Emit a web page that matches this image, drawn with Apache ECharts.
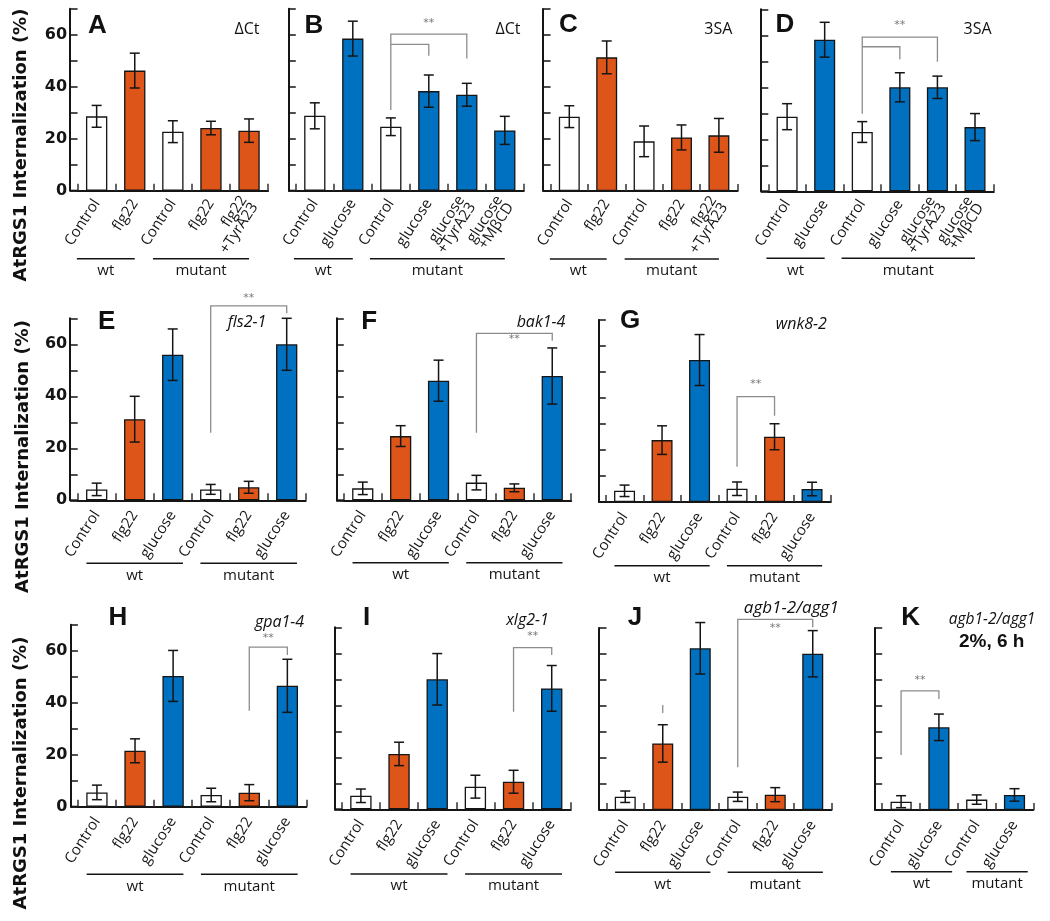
<!DOCTYPE html>
<html><head><meta charset="utf-8">
<script src="https://cdn.jsdelivr.net/npm/echarts@6/dist/echarts.min.js"></script>
<style>html,body{margin:0;padding:0;background:#fff}#c{width:1050px;height:921px}</style>
</head><body><div id="c"></div>
<script>
// ---------------- DATA ----------------
const catsAC = ['Control','flg22','Control','flg22','flg22\n+TyrA23'];
const catsBD = ['Control','glucose','Control','glucose','glucose\n+TyrA23','glucose\n+MβCD'];
const catsEJ = ['Control','flg22','glucose','Control','flg22','glucose'];
const catsK  = ['Control','glucose','Control','glucose'];

const kindsAC = ['ctrl','flg22','ctrl','flg22','flg22'];
const kindsBD = ['ctrl','glc','ctrl','glc','glc','glc'];
const kindsEJ = ['ctrl','flg22','glc','ctrl','flg22','glc'];
const kindsK  = ['ctrl','glc','ctrl','glc'];

const groupNames = ['wt','mutant'];
const groupsAC = [[0,1],[2,4]];
const groupsBD = [[0,1],[2,5]];
const groupsEJ = [[0,2],[3,5]];
const groupsK  = [[0,1],[2,3]];

const yTickLabels = [0,20,40,60];

const valuesA = [28.6,46.2,22.7,24.1,23.1];
const errorsA = [4.2,6.7,4.2,2.6,4.5];
const valuesB = [28.8,58.5,24.6,38.3,36.9,23.2];
const errorsB = [5.0,6.7,3.4,6.2,4.4,5.4];
const valuesC = [28.6,51.4,19.1,20.6,21.4];
const errorsC = [4.2,6.3,5.9,4.8,6.5];
const valuesD = [28.7,58.3,22.8,40.0,40.0,24.7];
const errorsD = [5.0,6.7,4.0,5.6,4.3,5.2];
const valuesE = [4.2,31.2,56.0,4.2,5.0,60.0];
const errorsE = [2.4,8.8,9.9,1.9,2.3,10.0];
const valuesF = [4.6,24.7,46.0,6.8,4.8,47.8];
const errorsF = [2.4,4.0,7.9,2.8,1.5,10.8];
const valuesG = [4.3,23.8,54.6,5.1,25.1,5.0];
const errorsG = [2.2,5.5,9.8,2.6,5.0,2.6];
const valuesH = [5.5,21.5,50.3,4.5,5.4,46.5];
const errorsH = [2.8,4.6,9.8,2.6,3.1,10.2];
const valuesI = [5.2,21.3,50.0,8.7,10.6,46.5];
const errorsI = [2.6,4.5,9.9,4.4,4.4,8.8];
const valuesJ = [5.1,25.6,62.2,5.1,5.9,60.1];
const errorsJ = [2.2,7.2,9.9,1.8,2.7,8.9];
const valuesK = [3.2,31.8,4.0,5.8];
const errorsK = [2.3,5.1,1.8,2.4];

// brackets: [fromCat, toCat, topY, fromEndY, toEndY, showStars]
const bracketsA = [];
const bracketsB = [[2,4,60.2,31,50.8,1],[2,3,56.3,56.3,51.9,0]];
const bracketsC = [];
const bracketsD = [[2,4,59.3,29.8,49.8,1],[2,3,55.6,55.6,50.8,0]];
const bracketsE = [[3,5,74.8,26,71.9,1]];
const bracketsF = [[3,5,64.2,26,61.4,1]];
const bracketsG = [[3,4,40.5,13.6,33.2,1]];
const bracketsH = [[4,5,61.4,36.9,58.3,1]];
const bracketsI = [[4,5,62.2,37.5,59.3,1]];
const bracketsJ = [[3,5,73.3,16.4,70.3,1],[1,1,40.4,37.3,37.3,0]];
const bracketsK = [[0,1,45.8,21.2,42.7,1]];

const yTitle = 'AtRGS1 Internalization (%)';

// ---------------- LAYOUT / STYLE ----------------
const colors = {ctrl:'#ffffff', flg22:'#DD5519', glc:'#0070C0'};
const PH = 182;
const panels = [
 {id:'A', cats:catsAC, kinds:kindsAC, groups:groupsAC, vals:valuesA, errs:errorsA, br:bracketsA,
  left:77.6, top:8.7, width:190.5, lab:true, lineDy:68, padL:0.52, padR:0, lm:10, starDy:-11,
  letter:[97.5,25.5], notes:[['ΔCt',247,29,'n',16]]},
 {id:'B', cats:catsBD, kinds:kindsBD, groups:groupsBD, vals:valuesB, errs:errorsB, br:bracketsB,
  left:295.8, top:8.7, width:228, lab:false, lineDy:68, padL:0.55, padR:0, lm:10, starDy:-11,
  letter:[314,25.5], notes:[['ΔCt',508,29,'n',16]]},
 {id:'C', cats:catsAC, kinds:kindsAC, groups:groupsAC, vals:valuesC, errs:errorsC, br:bracketsC,
  left:550.6, top:9, width:187, lab:false, lineDy:68, padL:0.52, padR:0, lm:10, starDy:-11,
  letter:[568.3,25], notes:[['3SA',718.3,29,'n',16]]},
 {id:'D', cats:catsBD, kinds:kindsBD, groups:groupsBD, vals:valuesD, errs:errorsD, br:bracketsD,
  left:768.3, top:9.3, width:225.5, lab:false, lineDy:67, padL:0.55, padR:0, lm:10, starDy:-12,
  letter:[785,25], notes:[['3SA',977.5,29,'n',16]]},
 {id:'E', cats:catsEJ, kinds:kindsEJ, groups:groupsEJ, vals:valuesE, errs:errorsE, br:bracketsE,
  left:77.7, top:318.3, width:228, lab:true, lineDy:63, padL:0.27, padR:0.27, lm:12, starDy:-8,
  letter:[106.7,321.7], notes:[['fls2-1',247,322.7,'i',16]]},
 {id:'F', cats:catsEJ, kinds:kindsEJ, groups:groupsEJ, vals:valuesF, errs:errorsF, br:bracketsF,
  left:343.8, top:318.3, width:227.4, lab:false, lineDy:62.4, padL:0.27, padR:0.27, lm:12, starDy:6,
  letter:[369.3,321.7], notes:[['bak1-4',541,322.7,'i',16]]},
 {id:'G', cats:catsEJ, kinds:kindsEJ, groups:groupsEJ, vals:valuesG, errs:errorsG, br:bracketsG,
  left:605.8, top:320, width:225, lab:false, lineDy:63.7, padL:0.27, padR:0.27, lm:12, starDy:-13,
  letter:[630,320.7], notes:[['wnk8-2',801.3,324,'i',16]]},
 {id:'H', cats:catsEJ, kinds:kindsEJ, groups:groupsEJ, vals:valuesH, errs:errorsH, br:bracketsH,
  left:77.9, top:624.7, width:228.5, lab:true, lineDy:67.6, padL:0.27, padR:0.27, lm:12, starDy:-9,
  letter:[118,618.3], notes:[['gpa1-4',279.5,622.7,'i',16]]},
 {id:'I', cats:catsEJ, kinds:kindsEJ, groups:groupsEJ, vals:valuesI, errs:errorsI, br:bracketsI,
  left:341.8, top:627.3, width:229, lab:false, lineDy:64.7, padL:0.27, padR:0.27, lm:12, starDy:-11,
  letter:[366.7,618.3], notes:[['xlg2-1',527.5,620,'i',16]]},
 {id:'J', cats:catsEJ, kinds:kindsEJ, groups:groupsEJ, vals:valuesJ, errs:errorsJ, br:bracketsJ,
  left:606.5, top:628, width:225, lab:false, lineDy:62.3, padL:0.27, padR:0.27, lm:12, starDy:9,
  letter:[635,618], notes:[['agb1-2/agg1',791.3,608.3,'i',17]]},
 {id:'K', cats:catsK, kinds:kindsK, groups:groupsK, vals:valuesK, errs:errorsK, br:bracketsK,
  left:882.2, top:628, width:151.2, lab:false, lineDy:61.7, padL:0.27, padR:0.35, lm:12, starDy:-11,
  letter:[910.7,618], notes:[['agb1-2/agg1',992,620,'i',15.5],['2%, 6 h',991.7,641.7,'b',19]]}
];
const yTitlePos = [[21.7,145],[23,456.5],[21.7,773]];

const INK = '#151515';
const GRAY = '#8c8c8c';
const YOFF = 7.5;

function errRender(params, api){
  const x = api.value(0), v = api.value(1), e = api.value(2);
  const t = api.coord([x, v+e]), b = api.coord([x, v-e]);
  const hw = 5, st = {stroke:INK, lineWidth:1.5};
  return {type:'group', children:[
    {type:'line', shape:{x1:t[0],y1:t[1],x2:b[0],y2:b[1]}, style:st},
    {type:'line', shape:{x1:t[0]-hw,y1:t[1],x2:t[0]+hw,y2:t[1]}, style:st},
    {type:'line', shape:{x1:b[0]-hw,y1:b[1],x2:b[0]+hw,y2:b[1]}, style:st}
  ]};
}
function makeBracketRender(p){
  return function(params, api){
    const x1=api.value(0), x2=api.value(1), top=api.value(2), y1=api.value(3), y2=api.value(4), s=api.value(5);
    const a = api.coord([x1,y1]), at = api.coord([x1,top]), bt = api.coord([x2,top]), b = api.coord([x2,y2]);
    const ch = [{type:'polyline', shape:{points:[a,at,bt,b]}, style:{stroke:GRAY, lineWidth:1.3, fill:null}}];
    if (s) {
      ch.push({type:'text', x:(at[0]+bt[0])/2, y:at[1]+p.starDy,
        style:{text:'**', fill:'#777', fontSize:11, fontFamily:'DejaVu Sans', align:'center', verticalAlign:'middle'}});
    }
    return {type:'group', children:ch};
  };
}
function makeDecorRender(p){
  return function(params, api){
    const g = p.groups[params.dataIndex];
    const band = api.size([1,0])[0];
    const s = api.coord([g[0],0]), e = api.coord([g[1],0]);
    const y = s[1] + p.lineDy;
    const x1 = s[0] - p.padL*band, x2 = e[0] + p.padR*band;
    const ch = [
      {type:'line', shape:{x1:x1,y1:y,x2:x2,y2:y}, style:{stroke:INK, lineWidth:1.5}},
      {type:'text', x:(x1+x2)/2, y:y+12, style:{text:groupNames[params.dataIndex], fill:INK, fontSize:15,
        fontFamily:'Open Sans', align:'center', verticalAlign:'middle'}}
    ];
    if (params.dataIndex === 0) {
      const x0 = s[0] - band/2;
      ch.push({type:'line', shape:{x1:x0-YOFF,y1:s[1],x2:x0,y2:s[1]}, style:{stroke:INK, lineWidth:2}});
    }
    return {type:'group', children:ch};
  };
}

const grid=[], xAxis=[], yAxis=[], series=[], graphic=[];
panels.forEach((p,i)=>{
  grid.push({left:p.left, top:p.top, width:p.width, height:PH});
  xAxis.push({gridIndex:i, type:'category', data:p.cats, boundaryGap:true,
    axisLine:{lineStyle:{color:INK, width:2}},
    axisTick:{show:true, inside:true, length:7, lineStyle:{color:'#333', width:1.5}},
    axisLabel:{interval:0, rotate:57, margin:p.lm, fontFamily:'Open Sans', fontSize:15, color:INK, lineHeight:13}});
  yAxis.push({gridIndex:i, type:'value', min:0, max:70, interval:10, offset:YOFF,
    axisLine:{show:true, lineStyle:{color:INK, width:2}},
    axisTick:{show:true, inside:true, length:YOFF, lineStyle:{color:INK, width:1.5}},
    splitLine:{show:false},
    axisLabel:{show:p.lab, margin:3, fontFamily:'DejaVu Sans', fontWeight:'bold', fontSize:16, color:INK,
      formatter:v=> yTickLabels.indexOf(v)>=0 ? String(v) : ''}});
  series.push({type:'bar', xAxisIndex:i, yAxisIndex:i, barWidth:'56%', animation:false,
    data:p.vals.map((v,j)=>({value:v, itemStyle:{color:colors[p.kinds[j]]}})),
    itemStyle:{borderColor:INK, borderWidth:1.3}});
  series.push({type:'custom', xAxisIndex:i, yAxisIndex:i, clip:false, z:5, animation:false,
    renderItem:errRender, data:p.vals.map((v,j)=>[j,v,p.errs[j]])});
  if (p.br.length) series.push({type:'custom', xAxisIndex:i, yAxisIndex:i, clip:false, z:4, animation:false,
    renderItem:makeBracketRender(p), data:p.br});
  series.push({type:'custom', xAxisIndex:i, yAxisIndex:i, clip:false, z:4, animation:false,
    renderItem:makeDecorRender(p), data:p.groups.map(g=>[g[0],0,g[1]])});
  graphic.push({type:'text', x:p.letter[0], y:p.letter[1],
    style:{text:p.id, fill:'#111', fontSize:26, fontWeight:'bold', fontFamily:'Liberation Sans', align:'center', verticalAlign:'middle'}});
  p.notes.forEach(n=>{
    graphic.push({type:'text', x:n[1], y:n[2],
      style:{text:n[0], fill:'#111', fontSize:n[4],
        fontFamily: n[3]==='b' ? 'Liberation Sans' : 'Open Sans',
        fontWeight: n[3]==='b' ? 'bold' : 'normal',
        fontStyle: n[3]==='i' ? 'italic' : 'normal',
        align:'center', verticalAlign:'middle'}});
  });
});
yTitlePos.forEach(pos=>{
  graphic.push({type:'text', x:pos[0], y:pos[1], rotation:Math.PI/2,
    style:{text:yTitle, fill:'#111', fontSize:18, fontWeight:'bold', fontFamily:'DejaVu Sans', align:'center', verticalAlign:'middle'}});
});

const chart = echarts.init(document.getElementById('c'), null, {renderer:'canvas'});
chart.setOption({animation:false, backgroundColor:'#fff', grid, xAxis, yAxis, series, graphic});
</script></body></html>
